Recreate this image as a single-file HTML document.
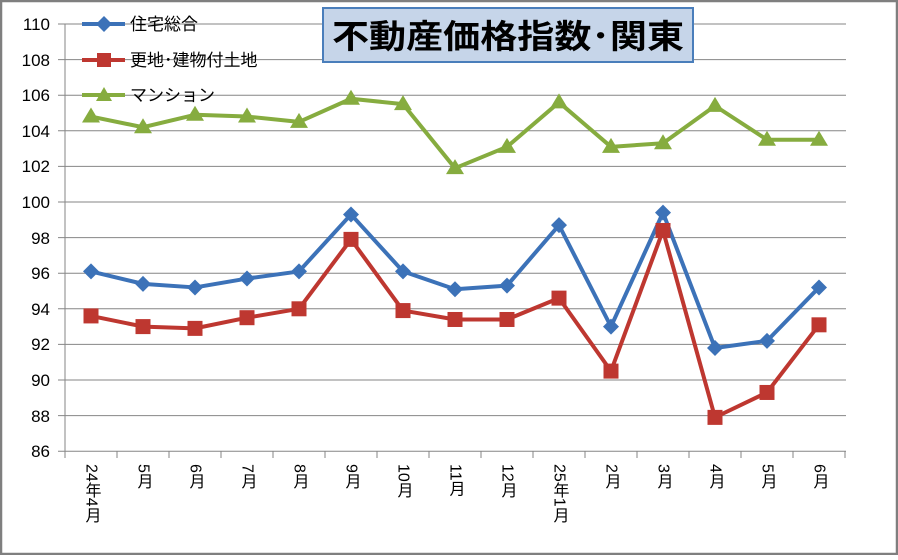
<!DOCTYPE html>
<html><head><meta charset="utf-8"><style>
body{margin:0;background:#fff}
svg text{font-family:"Liberation Sans","Noto Sans CJK JP",sans-serif}
.xl{writing-mode:vertical-rl;font-size:16px}
</style></head><body>
<svg width="898" height="555" viewBox="0 0 898 555" xmlns="http://www.w3.org/2000/svg">
<rect x="1" y="1" width="896" height="553" fill="#fff" stroke="#7f7f7f" stroke-width="2.5"/>
<g stroke="#868686" stroke-width="1">
<line x1="58" y1="24" x2="846" y2="24"/><line x1="58" y1="59.6" x2="846" y2="59.6"/>
<line x1="58" y1="95.2" x2="846" y2="95.2"/><line x1="58" y1="130.8" x2="846" y2="130.8"/>
<line x1="58" y1="166.4" x2="846" y2="166.4"/><line x1="58" y1="202" x2="846" y2="202"/>
<line x1="58" y1="237.6" x2="846" y2="237.6"/><line x1="58" y1="273.2" x2="846" y2="273.2"/>
<line x1="58" y1="308.8" x2="846" y2="308.8"/><line x1="58" y1="344.4" x2="846" y2="344.4"/>
<line x1="58" y1="380" x2="846" y2="380"/><line x1="58" y1="415.6" x2="846" y2="415.6"/>
<line x1="58" y1="451.2" x2="846" y2="451.2"/>
<line x1="65" y1="24" x2="65" y2="451"/>
</g>
<g stroke="#868686" id="ticks"></g>
<g font-size="17" text-anchor="end" fill="#000">
<text x="50" y="30">110</text><text x="50" y="66">108</text><text x="50" y="101">106</text><text x="50" y="137">104</text><text x="50" y="172">102</text><text x="50" y="208">100</text><text x="50" y="244">98</text><text x="50" y="279">96</text><text x="50" y="315">94</text><text x="50" y="350">92</text><text x="50" y="386">90</text><text x="50" y="422">88</text><text x="50" y="457">86</text>
</g>
<g id="xl"></g>
<g id="series"></g>
<rect x="323" y="8" width="370" height="54" fill="#c6d5e9" stroke="#4a7ebb" stroke-width="2"/>
<text x="508" y="48" font-size="33" font-weight="bold" text-anchor="middle" textLength="352" lengthAdjust="spacingAndGlyphs">不動産価格指数･関東</text>
<g font-size="17">
<line x1="82" y1="24" x2="125" y2="24" stroke="#3c72b8" stroke-width="4"/><path d="M104 16 L112 24 L104 32 L96 24Z" fill="#3c72b8"/>
<text x="130" y="30">住宅総合</text>
<line x1="82" y1="60" x2="125" y2="60" stroke="#be3730" stroke-width="4"/><rect x="97" y="53" width="14" height="14" fill="#be3730"/>
<text x="130" y="66">更地･建物付土地</text>
<line x1="82" y1="95" x2="125" y2="95" stroke="#86ac3f" stroke-width="4"/><path d="M104 87 L112 101 L96 101Z" fill="#86ac3f"/>
<text x="130" y="101">マンション</text>
</g>
</svg>
<script>
const ns="http://www.w3.org/2000/svg";
const Y=v=>24+(110-v)*17.8, X=i=>91+52*i;
const t=document.getElementById('ticks');
for(let i=0;i<=15;i++){const l=document.createElementNS(ns,'line');l.setAttribute('x1',65+52*i);l.setAttribute('x2',65+52*i);l.setAttribute('y1',451);l.setAttribute('y2',458);t.appendChild(l);}
const labs=["24年4月","5月","6月","7月","8月","9月","10月","11月","12月","25年1月","2月","3月","4月","5月","6月"];
const xl=document.getElementById('xl');
labs.forEach((s,i)=>{const e=document.createElementNS(ns,'text');e.setAttribute('class','xl');e.setAttribute('x',X(i));e.setAttribute('y',464);e.textContent=s;xl.appendChild(e);});
const S=[
{c:"#86ac3f",m:"t",d:[104.8,104.2,104.9,104.8,104.5,105.8,105.5,101.9,103.1,105.6,103.1,103.3,105.4,103.5,103.5]},
{c:"#3c72b8",m:"d",d:[96.1,95.4,95.2,95.7,96.1,99.3,96.1,95.1,95.3,98.7,93.0,99.4,91.8,92.2,95.2]},
{c:"#be3730",m:"s",d:[93.6,93.0,92.9,93.5,94.0,97.9,93.9,93.4,93.4,94.6,90.5,98.4,87.9,89.3,93.1]}];
const g=document.getElementById('series');
S.forEach(s=>{const p=document.createElementNS(ns,'polyline');p.setAttribute('points',s.d.map((v,i)=>X(i)+','+Y(v)).join(' '));p.setAttribute('fill','none');p.setAttribute('stroke',s.c);p.setAttribute('stroke-width',4);p.setAttribute('stroke-linejoin','round');g.appendChild(p);
s.d.forEach((v,i)=>{const x=X(i),y=Y(v);let e;
if(s.m=='s'){e=document.createElementNS(ns,'rect');e.setAttribute('x',x-7.5);e.setAttribute('y',y-7.5);e.setAttribute('width',15);e.setAttribute('height',15);}
else{e=document.createElementNS(ns,'path');e.setAttribute('d',s.m=='d'?`M${x} ${y-8}L${x+8} ${y}L${x} ${y+8}L${x-8} ${y}Z`:`M${x} ${y-9}L${x+9} ${y+6}L${x-9} ${y+6}Z`);}
e.setAttribute('fill',s.c);g.appendChild(e);});});
</script>
</body></html>
